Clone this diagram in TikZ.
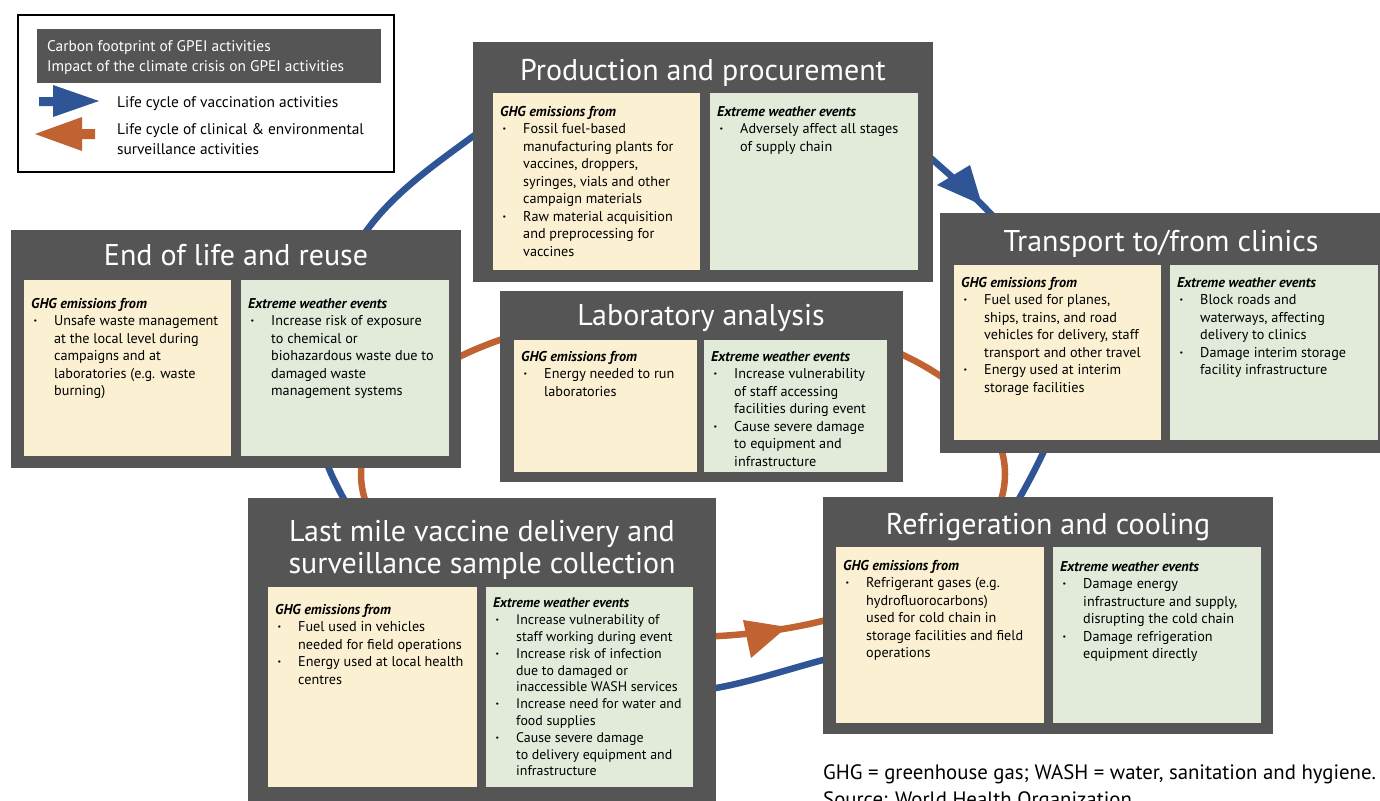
\documentclass[tikz,border=0pt]{standalone}
\usepackage{fontspec}
\setmainfont{PT Sans}
\definecolor{boxgray}{RGB}{84,85,84}
\definecolor{ghgyellow}{RGB}{251,240,209}
\definecolor{wxgreen}{RGB}{226,234,217}
\definecolor{cycblue}{RGB}{47,85,151}
\definecolor{cycorange}{RGB}{192,98,50}
\newcommand\bu{\makebox[23pt][l]{\hspace{2.5pt}\textbf{·}}}
\newcommand\ind{\makebox[23pt]{}}
\newcommand\ghg{\textbf{\textit{GHG emissions from}}}
\newcommand\xwe{\textbf{\textit{Extreme weather events}}}
\begin{document}
\begin{tikzpicture}[x=1pt,y=-1pt,
  panel/.style={fill=boxgray,draw=none,inner sep=0pt,outer sep=0pt,anchor=north west},
  ghgbox/.style={fill=ghgyellow,draw=none,inner sep=0pt,outer sep=0pt,anchor=north west},
  wxbox/.style={fill=wxgreen,draw=none,inner sep=0pt,outer sep=0pt,anchor=north west},
  body/.style={anchor=north west,inner sep=0pt,align=left,text=black,font=\fontsize{14.2}{17.5}\selectfont},
  ptitle/.style={anchor=base,inner sep=0pt,text=white,font=\fontsize{30}{32}\selectfont},
  legtext/.style={anchor=base west,inner sep=0pt,font=\fontsize{15.4}{20}\selectfont},
  cycline/.style={line width=6.5pt}
]
\useasboundingbox (0,0) rectangle (1380,800);
\clip (0,0) rectangle (1380,800);

% cycles
\draw[cycline,cycorange] (683,474) ellipse [x radius=322, y radius=163];
\draw[cycline,cycblue] (335,482) .. controls (295,402) and (313,302) .. (367,230)
  .. controls (395,192) and (434,165) .. (472,137)
  .. controls (540,86) and (615,88) .. (700,88)
  .. controls (785,88) and (869,104) .. (933,160)
  .. controls (952,177) and (972,194) .. (990,213)
  .. controls (1060,285) and (1086,363) .. (1043,453)
  .. controls (996,552) and (930,633) .. (823,660)
  .. controls (789,669) and (750,682) .. (716,688)
  .. controls (540,720) and (411,634) .. (335,482) -- cycle;
\fill[cycblue] (937,185) -- (970,165) -- (982,205) -- cycle;
\fill[cycorange] (743,620) -- (787,627) -- (751,658) -- cycle;

% Production and procurement
\node[panel,minimum width=460pt,minimum height=240pt] (prod) at (473,42) {};
\node[ghgbox,minimum width=207pt,minimum height=177pt] (prodghg) at (493,93) {};
\node[wxbox,minimum width=208pt,minimum height=177pt] (prodwx) at (710,93) {};
\node[ptitle] (prodtitle) at (703,80) {Production and procurement};
\node[body] (prodghgtext) at (500,106) {\ghg\\
\bu Fossil fuel-based\\
\ind manufacturing plants for\\
\ind vaccines, droppers,\\
\ind syringes, vials and other\\
\ind campaign materials\\
\bu Raw material acquisition\\
\ind and preprocessing for\\
\ind vaccines};
\node[body] (prodwxtext) at (717,106) {\xwe\\
\bu Adversely affect all stages\\
\ind of supply chain};

% Transport
\node[panel,minimum width=460pt,minimum height=240pt] (trans) at (940,213) {};
\node[ghgbox,minimum width=207pt,minimum height=175pt] (transghg) at (954,265) {};
\node[wxbox,minimum width=208pt,minimum height=175pt] (transwx) at (1170,265) {};
\node[ptitle] (transtitle) at (1161,251) {Transport to/from clinics};
\node[body] (transghgtext) at (961,277) {\ghg\\
\bu Fuel used for planes,\\
\ind ships, trains, and road\\
\ind vehicles for delivery, staff\\
\ind transport and other travel\\
\bu Energy used at interim\\
\ind storage facilities};
\node[body] (transwxtext) at (1177,277) {\xwe\\
\bu Block roads and\\
\ind waterways, affecting\\
\ind delivery to clinics\\
\bu Damage interim storage\\
\ind facility infrastructure};

% Laboratory
\node[panel,minimum width=403pt,minimum height=191pt] (lab) at (500,291) {};
\node[ghgbox,minimum width=183pt,minimum height=132pt] (labghg) at (514,340) {};
\node[wxbox,minimum width=183pt,minimum height=132pt] (labwx) at (704,340) {};
\node[ptitle] (labtitle) at (701,325) {Laboratory analysis};
\node[body] (labghgtext) at (521,351) {\ghg\\
\bu Energy needed to run\\
\ind laboratories};
\node[body] (labwxtext) at (711,351) {\xwe\\
\bu Increase vulnerability\\
\ind of staff accessing\\
\ind facilities during event\\
\bu Cause severe damage\\
\ind to equipment and\\
\ind infrastructure};

% End of life
\node[panel,minimum width=450pt,minimum height=238pt] (eol) at (11,230) {};
\node[ghgbox,minimum width=207pt,minimum height=176pt] (eolghg) at (24,280) {};
\node[wxbox,minimum width=208pt,minimum height=176pt] (eolwx) at (241,280) {};
\node[ptitle] (eoltitle) at (236,265) {End of life and reuse};
\node[body] (eolghgtext) at (31,298) {\ghg\\
\bu Unsafe waste management\\
\ind at the local level during\\
\ind campaigns and at\\
\ind laboratories (e.g. waste\\
\ind burning)};
\node[body] (eolwxtext) at (248,298) {\xwe\\
\bu Increase risk of exposure\\
\ind to chemical or\\
\ind biohazardous waste due to\\
\ind damaged waste\\
\ind management systems};

% Last mile
\node[panel,minimum width=468pt,minimum height=320pt] (last) at (248,498) {};
\node[ghgbox,minimum width=209pt,minimum height=200pt] (lastghg) at (268,587) {};
\node[wxbox,minimum width=207pt,minimum height=200pt] (lastwx) at (486,587) {};
\node[ptitle] (lasttitle1) at (482,541) {Last mile vaccine delivery and};
\node[ptitle] (lasttitle2) at (482,573) {surveillance sample collection};
\node[body] (lastghgtext) at (275,604) {\ghg\\
\bu Fuel used in vehicles\\
\ind needed for field operations\\
\bu Energy used at local health\\
\ind centres};
\node[body,font=\fontsize{13.9}{16.8}\selectfont] (lastwxtext) at (493,598) {\xwe\\
\bu Increase vulnerability of\\
\ind staff working during event\\
\bu Increase risk of infection\\
\ind due to damaged or\\
\ind inaccessible WASH services\\
\bu Increase need for water and\\
\ind food supplies\\
\bu Cause severe damage\\
\ind to delivery equipment and\\
\ind infrastructure};

% Refrigeration
\node[panel,minimum width=450pt,minimum height=237pt] (refr) at (823,497) {};
\node[ghgbox,minimum width=208pt,minimum height=176pt] (refrghg) at (836,547) {};
\node[wxbox,minimum width=208pt,minimum height=176pt] (refrwx) at (1053,547) {};
\node[ptitle] (refrtitle) at (1048,534) {Refrigeration and cooling};
\node[body] (refrghgtext) at (843,560) {\ghg\\
\bu Refrigerant gases (e.g.\\
\ind hydrofluorocarbons)\\
\ind used for cold chain in\\
\ind storage facilities and field\\
\ind operations};
\node[body] (refrwxtext) at (1060,561) {\xwe\\
\bu Damage energy\\
\ind infrastructure and supply,\\
\ind disrupting the cold chain\\
\bu Damage refrigeration\\
\ind equipment directly};

% Legend
\node[draw=black,line width=2pt,fill=white,inner sep=0pt,anchor=north west,minimum width=376pt,minimum height=157pt] (legend) at (17,14) {};
\node[panel,minimum width=344pt,minimum height=54pt] (legband) at (37,29) {};
\node[legtext,text=white] (leg1) at (47,51.5) {Carbon footprint of GPEI activities};
\node[legtext,text=white] (leg2) at (47,71.5) {Impact of the climate crisis on GPEI activities};
\fill[cycblue] (39,97) -- (53,97) -- (53,85) -- (99,101) -- (53,117) -- (53,106) -- (39,106) -- cycle;
\fill[cycorange] (95,129) -- (82,129) -- (82,117) -- (35,134) -- (82,151) -- (82,139) -- (95,139) -- cycle;
\node[legtext] (leg3) at (117,107) {Life cycle of vaccination activities};
\node[legtext] (leg4) at (117,134) {Life cycle of clinical \& environmental};
\node[legtext] (leg5) at (117,154) {surveillance activities};

% Footnote
\node[anchor=base west,inner sep=0pt,font=\fontsize{20.8}{24}\selectfont] (foot1) at (823,779) {GHG = greenhouse gas; WASH = water, sanitation and hygiene.};
\node[anchor=base west,inner sep=0pt,font=\fontsize{20.8}{24}\selectfont] (foot2) at (823,806) {Source: World Health Organization.};
\end{tikzpicture}
\end{document}
